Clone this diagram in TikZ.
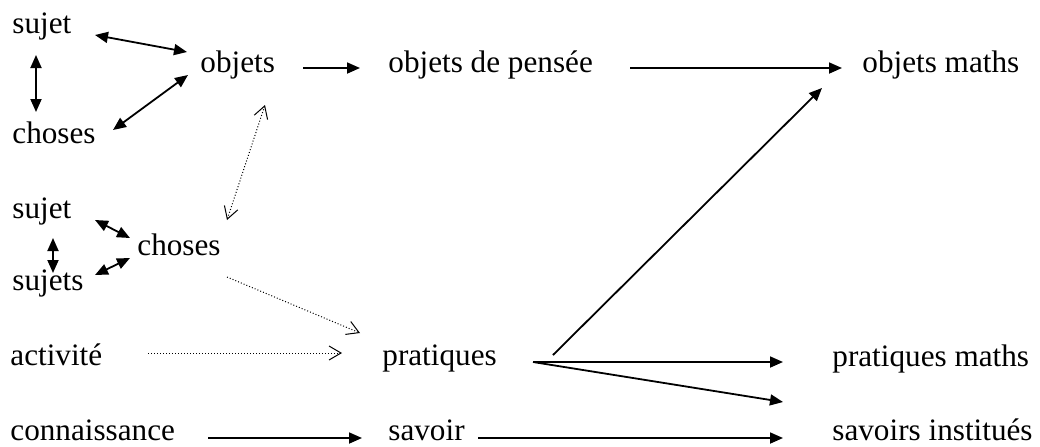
\documentclass[tikz,border=0pt]{standalone}
\usepackage{fontspec}
\setmainfont{Liberation Serif}
\usetikzlibrary{arrows.meta}

\tikzset{
  lbl/.style={anchor=base west, inner sep=0pt, font=\fontsize{15.6}{18}\selectfont},
  link/.style={line width=0.9pt},
  dotlink/.style={line width=0.5pt, densely dotted, -{Straight Barb[length=6pt,width=7pt]}},
  dotboth/.style={line width=0.5pt, densely dotted, {Straight Barb[length=6pt,width=7pt]}-{Straight Barb[length=6pt,width=7pt]}}
}

\begin{document}
\begin{tikzpicture}[x=0.5pt, y=-0.5pt, >={Triangle[length=6.5pt,width=5.5pt]}]
    \useasboundingbox (0,0) rectangle (1040,446);

    % labels: name / left / baseline / text
    \foreach \n/\x/\y/\t in {sujetA/12/33/sujet, chosesA/12/143/choses, objetsA/200/72/objets,
        penseeA/388/72/objets de pensée, mathsA/862/72/objets maths,
        sujetB/12/218/sujet, chosesB/137/255/choses, sujetsB/12/290/sujets,
        activite/10/365/activité, pratiques/382/365/pratiques, pratmaths/832/366/pratiques maths,
        connaissance/10/440/connaissance, savoir/388/440/savoir, instit/832/440/savoirs institués} {
      \node[lbl] (\n) at (\x,\y) {\t};
    }
    \coordinate (gap) at (783,402);

    % first triangle
    \draw[link, <->] ([shift={(83,2)}]sujetA.base west) -- ([shift={(-13,-20)}]objetsA.base west);
    \draw[link, <->] ([shift={(24,22)}]sujetA.base west) -- ([shift={(24,-31)}]chosesA.base west);
    \draw[link, <->] ([shift={(101,-13)}]chosesA.base west) -- ([shift={(-12,3)}]objetsA.base west);
    \draw[link, ->] ([shift={(103,-4)}]objetsA.base west) -- ([shift={(-28,-4)}]penseeA.base west);
    \draw[link, ->] ([shift={(242,-4)}]penseeA.base west) -- ([shift={(-20,-4)}]mathsA.base west);

    % second triangle
    \draw[dotboth] ([shift={(65,33)}]objetsA.base west) -- ([shift={(90,-35)}]chosesB.base west);
    \draw[link, <->] ([shift={(83,2)}]sujetB.base west) -- ([shift={(-7,-17)}]chosesB.base west);
    \draw[link, <->] ([shift={(83,-15)}]sujetsB.base west) -- ([shift={(-7,3)}]chosesB.base west);
    \draw[link, <->] ([shift={(41,20)}]sujetB.base west) -- ([shift={(41,-17)}]sujetsB.base west);

    % towards pratiques and savoir
    \draw[dotlink] ([shift={(90,22)}]chosesB.base west) -- ([shift={(-22,-32)}]pratiques.base west);
    \draw[dotlink] ([shift={(138,-12)}]activite.base west) -- ([shift={(-40,-12)}]pratiques.base west);
    \draw[link, ->] ([shift={(198,-2)}]connaissance.base west) -- ([shift={(-26,-2)}]savoir.base west);
    \draw[link, ->] ([shift={(90,-2)}]savoir.base west) -- ([shift={(-49,-2)}]instit.base west);

    % from pratiques
    \draw[link, ->] ([shift={(151,-3)}]pratiques.base west) -- ([shift={(-49,-4)}]pratmaths.base west);
    \draw[link, ->] ([shift={(151,-3)}]pratiques.base west) -- (gap);
    \draw[link, ->] ([shift={(171,-10)}]pratiques.base west) -- ([shift={(-40,16)}]mathsA.base west);
  \end{tikzpicture}
\end{document}
